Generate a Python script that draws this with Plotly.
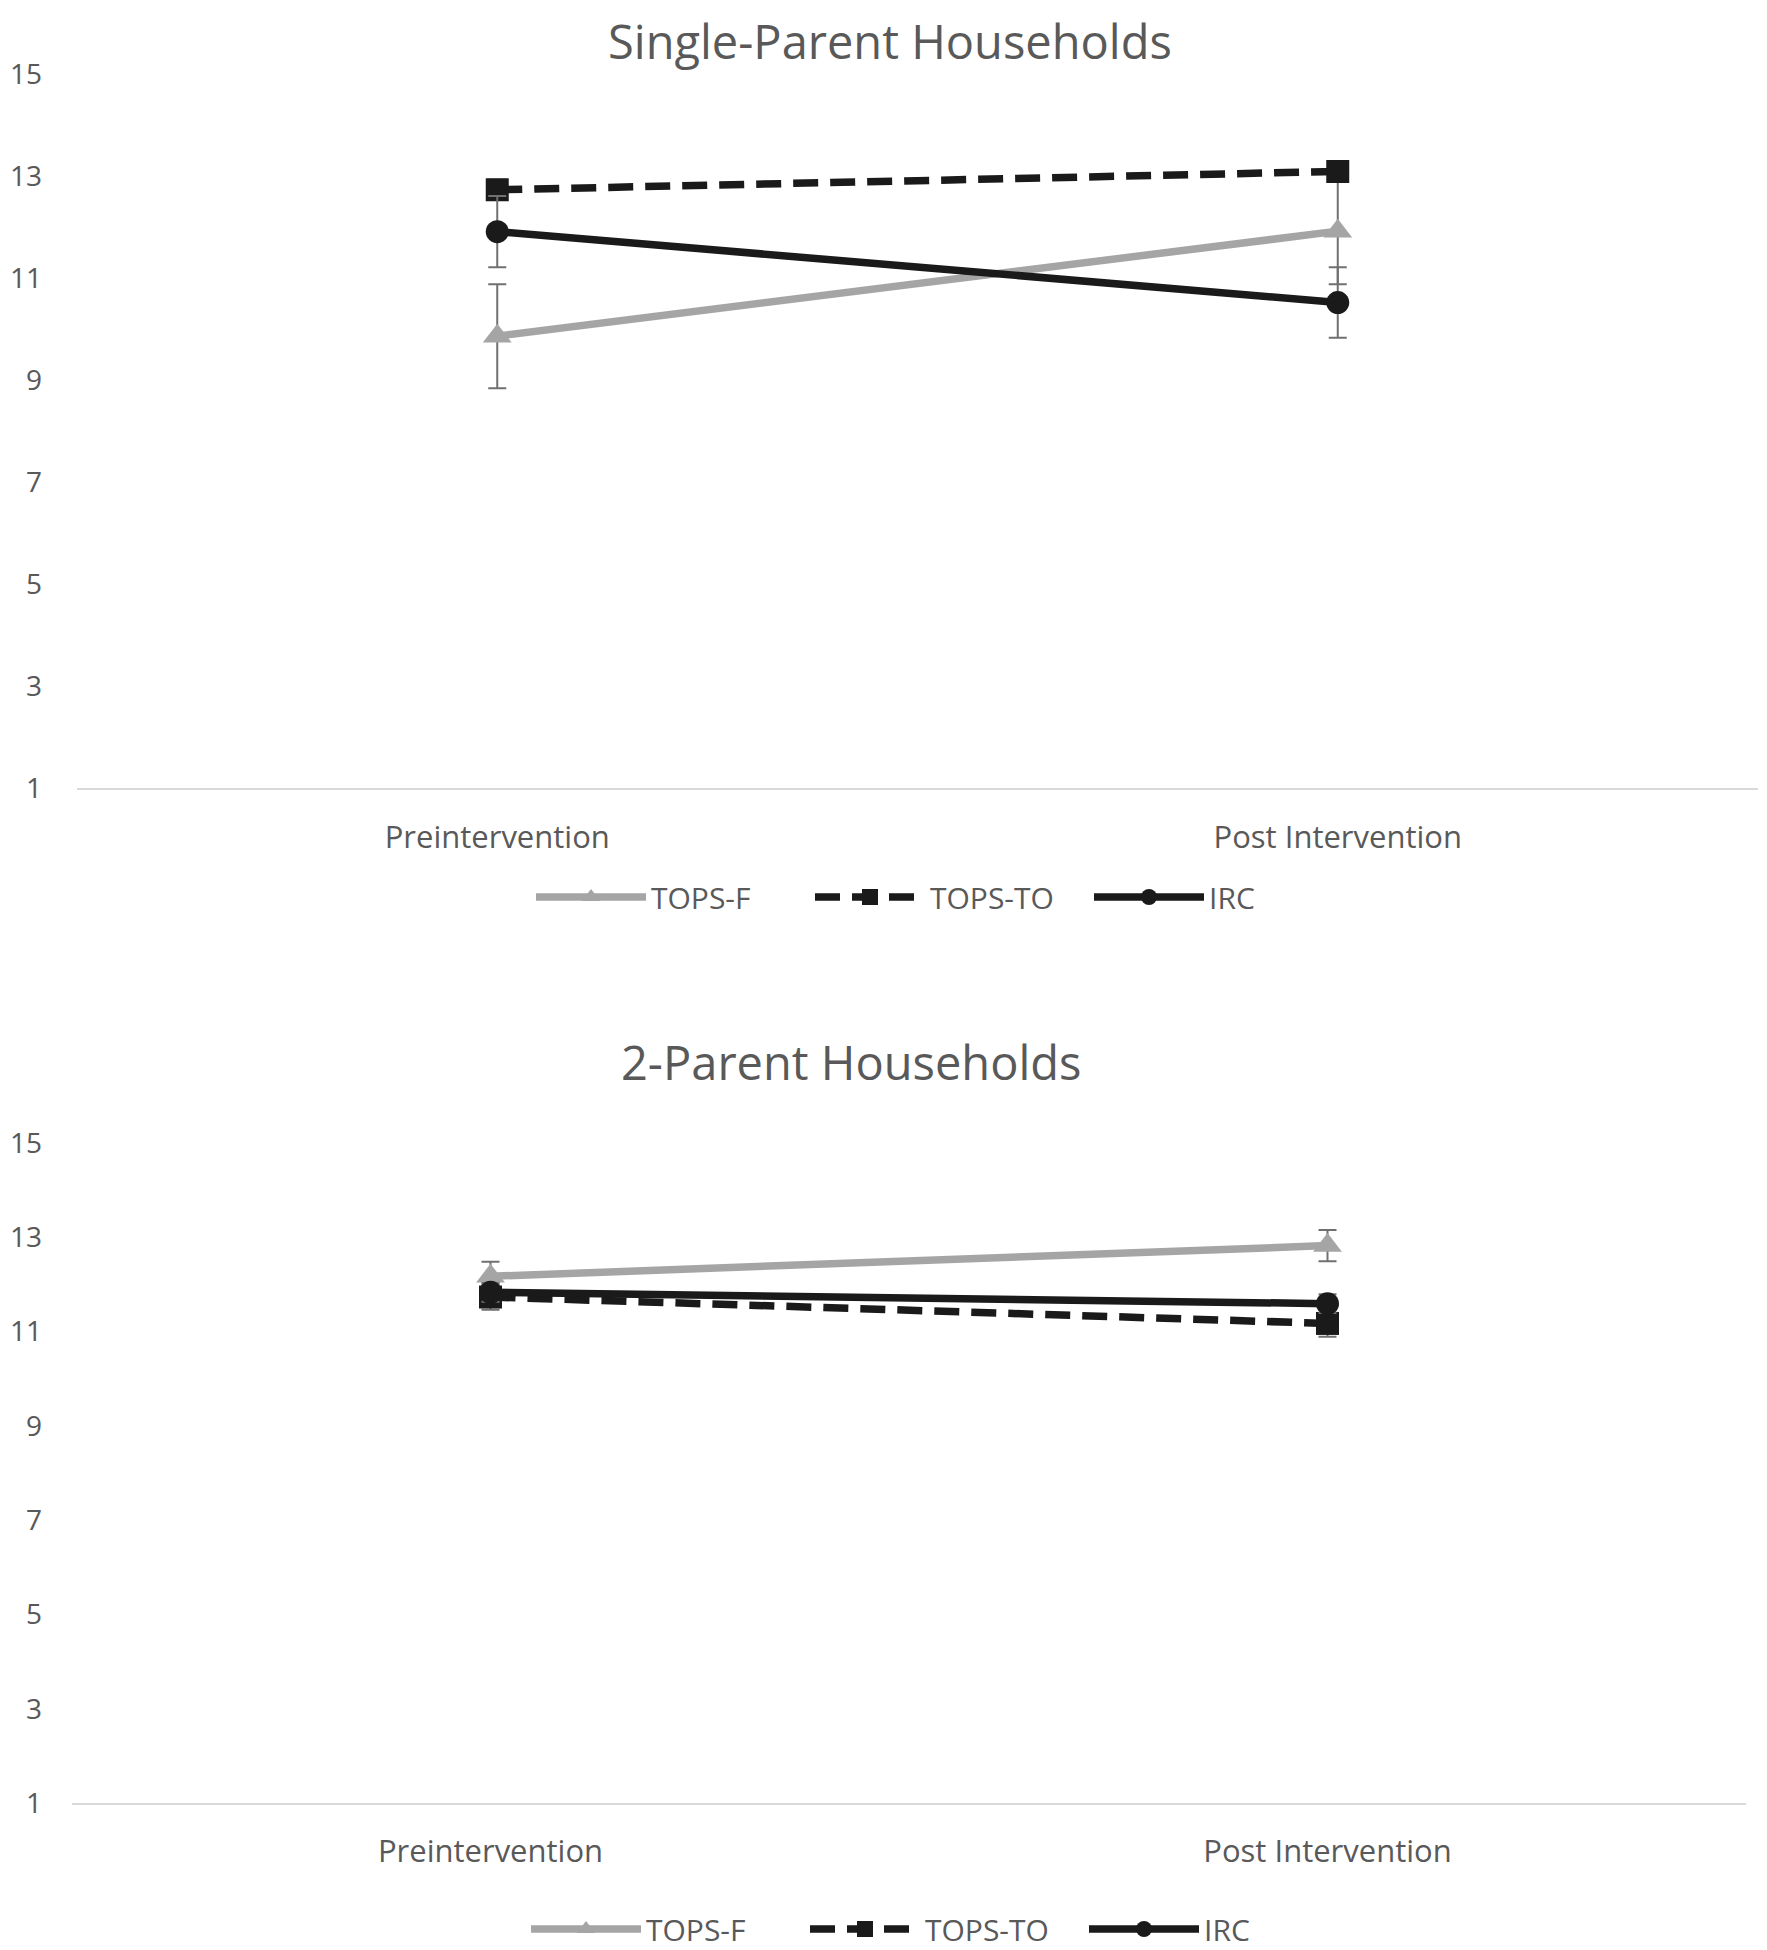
import plotly.graph_objects as go

# The page body has an 8px margin, so the figure is drawn 8px in from the
# window's top-left corner; all layout positions below are given in window
# pixels and converted to figure pixels.
OFF = 8
W, H = 1767 - OFF, 1950 - OFF

categories = ["Preintervention", "Post Intervention"]
series_names = ["TOPS-F", "TOPS-TO", "IRC"]

# Single-parent households (means and error sizes)
single_tops_f = [9.87, 11.93]
single_tops_f_err = [1.02, 1.04]
single_tops_to = [12.74, 13.10]
single_tops_to_err = [0.20, 0.20]
single_irc = [11.92, 10.53]
single_irc_err = [0.70, 0.69]

# Two-parent households
two_tops_f = [12.17, 12.82]
two_tops_f_err = [0.31, 0.33]
two_tops_to = [11.73, 11.17]
two_tops_to_err = [0.27, 0.28]
two_irc = [11.83, 11.59]
two_irc_err = [0.20, 0.20]

y_ticks = [1, 3, 5, 7, 9, 11, 13, 15]
titles = ["Single-Parent Households", "2-Parent Households"]

FONT = "Open Sans"
TXT = "#595959"
GRAY = "#a5a5a5"
BLACK = "#1a1a1a"
ERR = "#707070"

styles = {
    "TOPS-F": dict(color=GRAY, dash="solid", symbol="triangle-up", size=25),
    "TOPS-TO": dict(color=BLACK, dash="25px,12px", symbol="square", size=23),
    "IRC": dict(color=BLACK, dash="solid", symbol="circle", size=23),
}

panels = [
    dict(xa="x", ya="y", legend="legend",
         data=[single_tops_f, single_tops_to, single_irc],
         err=[single_tops_f_err, single_tops_to_err, single_irc_err]),
    dict(xa="x2", ya="y2", legend="legend2",
         data=[two_tops_f, two_tops_to, two_irc],
         err=[two_tops_f_err, two_tops_to_err, two_irc_err]),
]

fig = go.Figure()
for p in panels:
    for name, vals, errs in zip(series_names, p["data"], p["err"]):
        st = styles[name]
        fig.add_trace(go.Scatter(
            x=categories, y=vals, name=name, mode="lines+markers",
            xaxis=p["xa"], yaxis=p["ya"], legend=p["legend"],
            line=dict(color=st["color"], width=7.5, dash=st["dash"]),
            marker=dict(symbol=st["symbol"], size=st["size"], color=st["color"],
                        line=dict(width=0)),
            error_y=dict(type="data", array=errs, visible=True,
                         color=ERR, thickness=2, width=9),
        ))


def px_x(v):
    return (v - OFF) / W


def px_y(v):
    return 1 - (v - OFF) / H


axis_common_x = dict(
    type="category", range=[-0.5, 1.5], showgrid=False, zeroline=False,
    showline=True, linecolor="#d9d9d9", linewidth=2, ticks="",
    tickfont=dict(family=FONT, size=31, color=TXT), ticklabelstandoff=20,
    automargin=False,
)
axis_common_y = dict(
    range=[1, 15], tickvals=y_ticks, showgrid=False, zeroline=False,
    showline=False, ticks="", tickfont=dict(family=FONT, size=28, color=TXT),
    automargin=False,
)

legend_common = dict(
    orientation="h", xanchor="left", yanchor="middle", itemwidth=110,
    entrywidth=154, entrywidthmode="pixels",
    font=dict(family=FONT, size=30, color=TXT), bgcolor="rgba(0,0,0,0)",
)

fig.update_layout(
    width=W, height=H,
    margin=dict(l=0, r=0, t=0, b=0, autoexpand=False),
    paper_bgcolor="white", plot_bgcolor="white",
    xaxis=dict(domain=[px_x(77), px_x(1758)], anchor="y", **axis_common_x),
    yaxis=dict(domain=[px_y(788.4), px_y(74.6)], anchor="x",
               ticklabelstandoff=34, **axis_common_y),
    xaxis2=dict(domain=[px_x(72), px_x(1746)], anchor="y2", **axis_common_x),
    yaxis2=dict(domain=[px_y(1803.1), px_y(1142.8)], anchor="x2",
                ticklabelstandoff=29, **axis_common_y),
    legend=dict(x=px_x(531), y=px_y(897), **legend_common),
    legend2=dict(x=px_x(526), y=px_y(1929), **legend_common),
    annotations=[
        dict(text=titles[0], x=px_x(890), y=px_y(41), xref="paper", yref="paper",
             xanchor="center", yanchor="middle", showarrow=False,
             font=dict(family=FONT, size=47, color=TXT)),
        dict(text=titles[1], x=px_x(851), y=px_y(1062), xref="paper", yref="paper",
             xanchor="center", yanchor="middle", showarrow=False,
             font=dict(family=FONT, size=47, color=TXT)),
    ],
)

fig.write_html("out.html")
